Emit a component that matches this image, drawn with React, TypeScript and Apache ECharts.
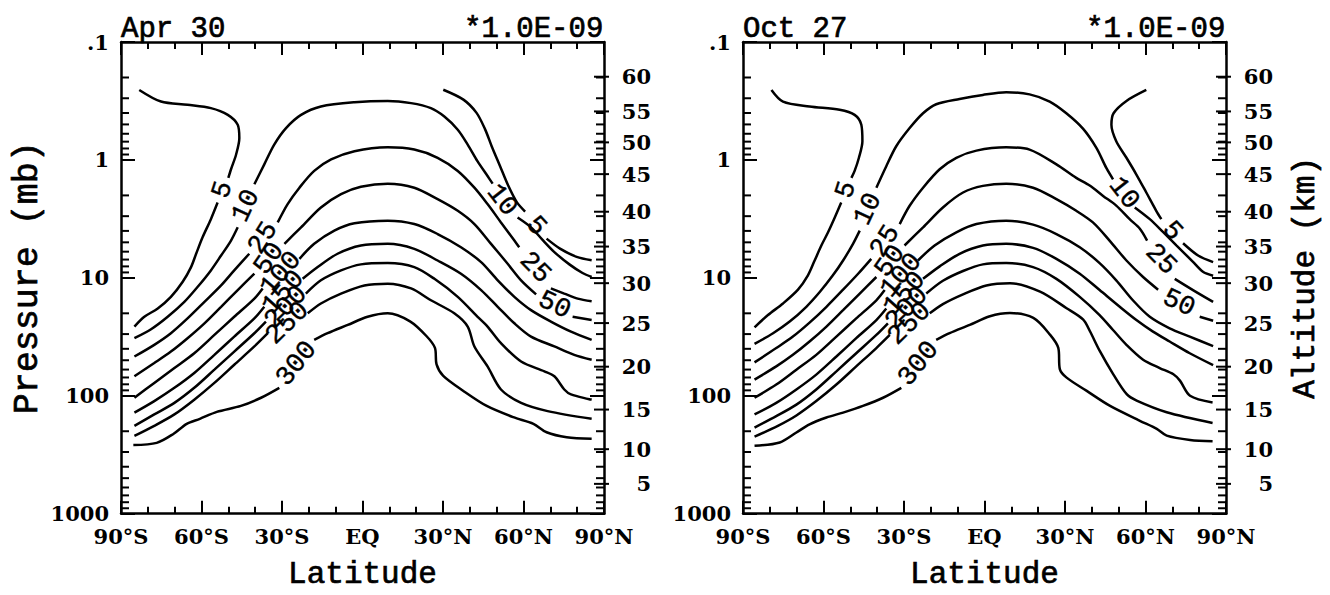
import React, { useEffect, useRef } from 'react';
import * as echarts from 'echarts';

type Pt = [number, number] | null;

// ---------- axis / tick data ----------
const latTickLabels = ['90°S', '60°S', '30°S', 'EQ', '30°N', '60°N', '90°N'];
const pressureTicks = [0.1, 1, 10, 100, 1000];
const pressureTickLabels = ['.1', '1', '10', '100', '1000'];
const minorPressureTicks = [
  0.2, 0.3, 0.4, 0.5, 0.6, 0.7, 0.8, 0.9,
  2, 3, 4, 5, 6, 7, 8, 9,
  20, 30, 40, 50, 60, 70, 80, 90,
  200, 300, 400, 500, 600, 700, 800, 900,
];
const altitudeKm = [60, 55, 50, 45, 40, 35, 30, 25, 20, 15, 10, 5];
const altitudePressure = [0.197, 0.388, 0.71, 1.32, 2.75, 5.43, 11.1, 24.2, 56.7, 131, 284, 559];
const panelDates = ['Apr 30', 'Oct 27'];
const scaleNote = '*1.0E-09';

// ---------- contour lines, [latitude, pressure mb]; null = gap for label ----------
const apr5W: Pt[] = [[-83.2,0.255],[-75.1,0.32],[-65.2,0.341],[-56.5,0.364],[-50.2,0.415],[-46.5,0.504],[-45.9,0.652],[-47.1,0.899],[-49.0,1.2],[-50.0,1.42],null,[-54.0,2.3],[-56.5,3.18],[-59.6,4.53],[-62.0,6.25],[-63.9,8.11],[-67.0,10.8],[-71.4,14.5],[-76.3,18.2],[-81.3,21.4],[-85.0,25.9]];
const apr5E: Pt[] = [[30.1,0.254],[37.6,0.308],[42.5,0.399],[45.7,0.551],[48.1,0.761],[51.2,1.12],[54.3,1.65],[57.5,2.28],[60.6,2.74],null,[68.6,4.65],[73.6,5.65],[79.8,6.64],[85.4,7.09]];
const apr10: Pt[] = [[-85.0,32.5],[-78.8,27.3],[-72.6,21.4],[-66.4,16.0],[-61.4,11.9],[-56.5,8.65],[-52.7,6.47],[-49.0,4.83],[-46.5,3.73],null,[-40.3,1.61],[-36.6,1.09],[-32.9,0.741],[-28.5,0.537],[-22.9,0.415],[-15.5,0.352],[-3.0,0.324],[9.4,0.316],[18.1,0.33],[25.5,0.364],[30.5,0.429],[35.5,0.555],[39.2,0.741],[42.9,1.03],[46.6,1.37],[48.5,1.59],null,[57.8,3.08],[62.8,3.73],[67.1,4.77],[71.5,6.05],[77.1,7.69],[82.0,9.1],[85.4,9.84]];
const apr25: Pt[] = [[-85.0,46.5],[-77.6,37.0],[-71.4,29.5],[-65.2,22.1],[-58.9,16.0],[-52.7,11.6],[-47.8,8.65],[-42.2,6.25],null,[-31.6,3.39],[-27.9,2.37],[-23.5,1.72],[-18.0,1.24],[-11.7,0.991],[-3.0,0.843],[9.4,0.782],[19.3,0.817],[28.0,0.959],[35.5,1.24],[41.7,1.72],[46.6,2.37],[51.6,3.39],[56.6,4.83],[58.4,5.5],null,[70.2,12.3],[75.2,13.6],[80.2,15.0],[85.4,15.8]];
const apr50: Pt[] = [[-85.0,68.4],[-77.6,52.8],[-71.4,42.2],[-65.2,32.5],[-58.9,24.3],[-52.7,17.6],[-46.5,12.7],[-40.3,9.23],null,[-29.1,5.15],[-22.9,3.73],[-15.5,2.53],[-8.0,1.95],[-0.6,1.69],[9.4,1.59],[19.3,1.72],[28.0,2.15],[35.5,2.7],[41.7,3.5],[47.9,5.15],[54.1,7.6],[59.1,10.5],[64.7,13.8],null,[78.3,21.4],[85.4,22.8]];
const apr100: Pt[] = [[-85.0,104],[-77.6,77.8],[-70.1,58.2],[-62.7,43.6],[-55.2,30.5],[-47.8,21.4],[-40.3,15.0],[-37.2,12.3],null,[-23.5,6.9],[-18.0,5.15],[-10.5,3.98],[-3.0,3.45],[9.4,3.28],[19.3,3.5],[28.0,4.25],[36.7,5.5],[44.2,7.36],[50.4,10.5],[56.6,14.5],[62.8,18.8],[70.2,23.5],[77.7,28.6],[85.4,33.6]];
const apr150: Pt[] = [[-85.0,139],[-77.6,111],[-70.1,85.7],[-62.7,64.1],[-55.2,45.0],[-47.8,31.5],[-40.3,22.1],[-36.6,17.6],null,[-22.3,10.2],[-16.7,8.11],[-9.3,6.25],[-0.6,5.32],[9.4,5.15],[19.3,5.68],[28.0,7.13],[36.7,9.23],[44.2,12.7],[50.4,17.6],[56.6,24.3],[62.8,31.5],[71.5,38.2],[78.9,45.0],[85.4,49.5]];
const apr200: Pt[] = [[-85.0,180],[-77.6,144],[-70.1,115],[-62.7,85.7],[-55.2,60.1],[-47.8,42.2],[-40.3,29.5],[-36.0,23.5],null,[-21.1,13.6],[-15.5,10.5],[-8.0,8.65],[-0.6,7.69],[9.4,7.5],[19.3,8.11],[26.8,10.2],[35.5,14.5],[42.9,21.4],[46.6,25.9],[51.6,35.8],[59.1,51.2],[67.8,62.1],[71.5,68.4],[75.2,88.5],[77.7,97.5],[85.4,108]];
const apr250: Pt[] = [[-85.0,219],[-77.6,180],[-70.1,144],[-62.7,108],[-55.2,77.8],[-47.8,54.6],[-40.3,38.2],[-35.3,29.5],null,[-20.4,20.0],[-15.5,16.5],[-8.0,13.6],[0.7,11.6],[9.4,11.2],[18.1,12.3],[25.5,15.5],[34.2,20.0],[39.2,25.9],[41.7,38.2],[46.6,56.4],[51.6,88.5],[59.1,115],[69.0,135],[85.4,157]];
const apr300: Pt[] = [[-85.4,262],[-76.7,251],[-70.5,211],[-65.5,173],[-60.6,157],[-54.3,137],[-45.3,122],[-37.8,104],[-31.0,85.7],null,[-18.0,33.6],[-13.0,29.5],[-5.5,25.1],[1.9,21.4],[9.4,20.0],[17.7,23.4],[23.9,31.3],[27.0,39.3],[27.6,54.2],[30.1,67.9],[37.6,91.0],[46.3,122],[56.2,152],[63.7,173],[68.6,204],[76.1,225],[85.4,232]];

const oct5W: Pt[] = [[-79.4,0.255],[-75.1,0.32],[-65.2,0.352],[-54.0,0.376],[-48.4,0.415],[-45.9,0.504],[-45.5,0.695],[-46.8,0.959],[-48.4,1.24],[-49.6,1.42],null,[-53.4,2.3],[-55.8,3.08],[-58.3,4.11],[-60.8,5.32],[-63.3,7.13],[-65.8,9.53],[-69.5,12.6],[-75.1,16.5],[-80.7,20.7],[-85.7,26.3]];
const oct5E: Pt[] = [[60.3,0.255],[52.9,0.316],[48.1,0.402],[47.3,0.504],[49.1,0.695],[52.9,0.959],[56.6,1.33],[60.3,1.89],[64.0,2.7],[65.9,3.18],null,[74.0,5.09],[79.6,6.47],[85.2,7.36]];
const oct10: Pt[] = [[-85.7,36.3],[-78.8,29.5],[-72.6,23.5],[-66.4,17.6],[-61.4,13.2],[-56.5,9.53],[-52.7,7.13],[-49.0,5.15],[-46.5,3.98],null,[-40.3,1.72],[-36.6,1.13],[-32.9,0.766],[-27.9,0.537],[-22.9,0.402],[-18.0,0.337],[-9.3,0.304],[-0.6,0.281],[8.1,0.267],[16.8,0.278],[24.3,0.32],[30.5,0.402],[36.7,0.543],[41.7,0.791],[45.4,1.17],[47.9,1.46],null,[56.0,2.53],[61.6,3.18],[66.5,4.08],[71.5,5.3],[77.7,7.31],[81.4,8.87],[85.2,9.59]];
const oct25: Pt[] = [[-85.7,52.1],[-77.6,39.4],[-71.4,31.5],[-65.2,24.0],[-58.9,17.6],[-52.7,12.6],[-47.1,9.23],[-42.2,6.9],null,[-31.6,3.5],[-27.9,2.45],[-22.9,1.72],[-16.7,1.2],[-10.5,0.959],[-3.0,0.834],[8.1,0.782],[16.8,0.817],[26.8,1.09],[34.2,1.42],[39.2,1.65],[44.2,2.02],[49.1,2.44],[54.1,3.18],[57.9,3.83],[60.6,4.83],null,[70.9,10.2],[77.7,12.7],[85.2,16.0]];
const oct50: Pt[] = [[-85.7,72.9],[-77.6,56.4],[-71.4,45.0],[-65.2,34.7],[-58.9,25.9],[-52.7,18.8],[-46.5,13.6],[-40.3,9.84],null,[-29.8,5.32],[-22.9,3.73],[-15.5,2.53],[-8.0,1.89],[-0.6,1.66],[8.1,1.59],[18.1,1.72],[26.8,2.15],[34.2,2.7],[40.4,3.39],[46.6,4.83],[52.9,7.13],[59.1,9.84],[64.7,12.6],null,[80.2,21.4],[85.2,23.1]];
const oct100: Pt[] = [[-85.7,104],[-77.6,80.4],[-70.1,60.1],[-62.7,45.0],[-55.2,31.5],[-47.8,22.1],[-40.3,15.5],[-37.2,12.7],null,[-24.8,7.13],[-18.6,5.32],[-10.5,4.11],[-3.0,3.5],[8.1,3.28],[18.1,3.54],[26.8,4.25],[35.5,5.5],[42.9,7.5],[49.1,10.5],[55.3,15.5],[61.6,21.4],[69.0,26.8],[76.5,31.5],[85.2,38.0]];
const oct150: Pt[] = [[-85.7,144],[-77.6,115],[-70.1,88.5],[-62.7,66.2],[-55.2,46.5],[-47.8,32.5],[-40.3,22.8],[-36.6,18.2],null,[-22.9,10.2],[-16.7,8.0],[-9.3,6.25],[-0.6,5.32],[8.1,5.15],[18.1,5.57],[26.8,6.9],[35.5,9.23],[42.9,12.7],[50.4,17.6],[56.6,22.8],[62.8,28.6],[69.0,34.7],[76.5,43.6],[85.2,55.0]];
const oct200: Pt[] = [[-85.7,186],[-77.6,149],[-70.1,119],[-62.7,88.5],[-55.2,62.1],[-47.8,43.6],[-40.3,30.5],[-36.0,24.3],null,[-21.7,13.6],[-15.5,10.6],[-8.0,8.75],[-0.6,7.69],[8.1,7.5],[18.1,8.11],[26.8,10.2],[35.5,14.5],[42.9,20.7],[47.9,27.7],[52.9,37.0],[59.1,49.5],[65.3,58.2],[70.4,65.8],[72.9,74.8],[76.6,100],[85.0,114]];
const oct250: Pt[] = [[-85.7,222],[-77.0,180],[-70.1,147],[-62.7,111],[-55.2,80.4],[-47.8,56.4],[-40.3,39.4],[-35.3,30.5],null,[-20.4,20.0],[-15.5,16.7],[-8.0,13.8],[0.7,11.6],[9.5,11.1],[20.7,13.1],[30.6,18.1],[36.8,22.6],[39.3,28.4],[43.0,41.9],[48.0,65.8],[53.0,97.0],[56.7,110],[67.9,138],[85.0,170]];
const oct300: Pt[] = [[-85.7,266],[-76.3,249],[-70.1,205],[-65.2,175],[-58.9,153],[-52.7,139],[-45.3,122],[-37.8,104],[-31.0,85.7],null,[-18.0,33.6],[-13.0,29.5],[-5.5,25.1],[2.0,21.2],[9.5,19.9],[18.2,21.9],[24.4,30.3],[27.5,39.3],[28.1,59.7],[30.6,70.2],[38.1,91.0],[46.8,122],[57.9,163],[64.2,191],[67.9,218],[76.6,237],[85.0,243]];

// ---------- contour labels: [latitude, pressure, level] ----------
const aprLabels = [[-52.0,1.8,5],[-43.4,2.45,10],[-37.0,4.59,25],[-34.7,6.9,50],[-30.4,9.23,100],[-29.5,13.3,150],[-28.5,17.8,200],[-27.9,24.3,250],[-24.5,53.5,300],[51.9,2.2,10],[64.7,3.64,5],[64.3,8.21,25],[71.5,17.1,50]];
const octLabels = [[-51.5,1.8,5],[-43.4,2.62,10],[-37.0,4.9,25],[-35.1,7.22,50],[-31.0,9.53,100],[-29.8,13.6,150],[-28.9,18.2,200],[-27.9,24.6,250],[-24.5,53.5,300],[51.9,1.92,10],[69.9,4.01,5],[65.7,6.98,25],[72.4,16.4,50]];
const labelAngles = [72, 65, 58, 55, 50, 48, 46, 44, 52, -52, -48, -45, -25];

const aprLines: Pt[][] = [apr5W, apr5E, apr10, apr25, apr50, apr100, apr150, apr200, apr250, apr300];
const octLines: Pt[][] = [oct5W, oct5E, oct10, oct25, oct50, oct100, oct150, oct200, oct250, oct300];

function segments(pts: Pt[]): [number, number][][] {
  const out: [number, number][][] = [];
  let cur: [number, number][] = [];
  for (const p of pts) {
    if (p === null) {
      if (cur.length) out.push(cur);
      cur = [];
    } else cur.push(p);
  }
  if (cur.length) out.push(cur);
  return out;
}

const BLACK = '#000';
const tickFont = { fontFamily: 'DejaVu Serif', fontWeight: 'bold' as const, fontSize: 21, color: BLACK };
const monoFont = 'Liberation Mono';
const heavy = { textBorderColor: BLACK, textBorderWidth: 0.7 };

export default function App() {
  const ref = useRef<HTMLDivElement>(null);
  useEffect(() => {
    if (!ref.current) return;
    const chart = echarts.init(ref.current, undefined, { renderer: 'svg' });
    const gridLefts = [121, 743];
    const xAxis: any[] = [];
    const yAxis: any[] = [];
    const series: any[] = [];
    const title: any[] = [];

    gridLefts.forEach((gl, gi) => {
      const axisLine = { show: true, onZero: false, lineStyle: { color: BLACK, width: 2.5 } };
      const xCommon = {
        gridIndex: gi, type: 'value', min: -90, max: 90, interval: 30,
        axisLine,
        axisTick: { show: true, inside: true, length: 13, lineStyle: { color: BLACK, width: 2 } },
        minorTick: { show: true, splitNumber: 3, length: 7, lineStyle: { color: BLACK, width: 2 } },
        splitLine: { show: false }, minorSplitLine: { show: false },
      };
      xAxis.push({
        ...xCommon, position: 'bottom',
        axisLabel: { ...tickFont, margin: 12, formatter: (v: number) => latTickLabels[Math.round((v + 90) / 30)] },
        name: 'Latitude', nameLocation: 'middle', nameGap: 45,
        nameTextStyle: { fontFamily: monoFont, fontSize: 31, color: BLACK, ...heavy },
      });
      xAxis.push({ ...xCommon, position: 'top', axisLabel: { show: false } });

      const yCommon = {
        gridIndex: gi, type: 'log', logBase: 10, min: 0.1, max: 1000, inverse: true,
        axisLine,
        axisTick: { show: true, inside: true, length: 14, lineStyle: { color: BLACK, width: 2 } },
        splitLine: { show: false },
      };
      yAxis.push({
        ...yCommon, position: 'left',
        axisLabel: {
          ...tickFont, margin: 12,
          formatter: (v: number) => {
            let best = 0;
            pressureTicks.forEach((t, i) => { if (Math.abs(Math.log10(v) - Math.log10(t)) < Math.abs(Math.log10(v) - Math.log10(pressureTicks[best]))) best = i; });
            return pressureTickLabels[best];
          },
        },
        ...(gi === 0 ? {
          name: 'Pressure (mb)', nameLocation: 'middle', nameGap: 76,
          nameTextStyle: { fontFamily: monoFont, fontSize: 35, color: BLACK, ...heavy },
        } : {}),
      });
      yAxis.push({
        ...yCommon, position: 'right', axisLabel: { show: false },
        ...(gi === 1 ? {
          name: 'Altitude (km)', nameLocation: 'middle', nameGap: 64,
          nameTextStyle: { fontFamily: monoFont, fontSize: 31, color: BLACK, ...heavy },
        } : {}),
      });

      const xi = gi * 2;
      const yi = gi * 2;
      const lines = gi === 0 ? aprLines : octLines;
      lines.forEach((pts) => {
        segments(pts).forEach((seg) => {
          series.push({
            type: 'line', xAxisIndex: xi, yAxisIndex: yi, data: seg,
            showSymbol: false, symbol: 'none', smooth: 0.3, silent: true,
            lineStyle: { color: BLACK, width: 2.5 }, z: 2,
          });
        });
      });
      const labels = gi === 0 ? aprLabels : octLabels;
      series.push({
        type: 'scatter', xAxisIndex: xi, yAxisIndex: yi, symbolSize: 0, silent: true, z: 5,
        itemStyle: { color: BLACK, opacity: 1 },
        data: labels.map((l, i) => ({
          value: [l[0], l[1]],
          label: { rotate: labelAngles[i], formatter: String(l[2]), color: BLACK },
        })),
        label: {
          show: true, position: 'inside', color: BLACK, fontFamily: monoFont, fontSize: 27,
          textBorderWidth: 0.4, textBorderColor: BLACK, opacity: 1,
        },
      });
      // log minor ticks on both vertical sides
      series.push({
        type: 'custom', xAxisIndex: xi, yAxisIndex: yi, clip: false, silent: true, z: 6,
        data: minorPressureTicks.map((p) => [-90, p]),
        renderItem: (_p: any, api: any) => {
          const p = api.value(1);
          const L = api.coord([-90, p]);
          const R = api.coord([90, p]);
          return {
            type: 'group',
            children: [
              { type: 'line', shape: { x1: L[0], y1: L[1], x2: L[0] + 8, y2: L[1] }, style: { stroke: BLACK, lineWidth: 2 } },
              { type: 'line', shape: { x1: R[0] - 8, y1: R[1], x2: R[0], y2: R[1] }, style: { stroke: BLACK, lineWidth: 2 } },
            ],
          };
        },
      });
      // altitude axis on the right
      series.push({
        type: 'custom', xAxisIndex: xi, yAxisIndex: yi, clip: false, silent: true, z: 6,
        data: altitudeKm.map((a, i) => [90, altitudePressure[i], a]),
        renderItem: (_p: any, api: any) => {
          const p = api.value(1);
          const a = api.value(2);
          const R = api.coord([90, p]);
          return {
            type: 'group',
            children: [
              { type: 'line', shape: { x1: R[0] - 10, y1: R[1], x2: R[0] + 5, y2: R[1] }, style: { stroke: BLACK, lineWidth: 2 } },
              {
                type: 'text', x: R[0] + 47, y: R[1],
                style: {
                  text: String(a), fill: BLACK, fontFamily: 'DejaVu Serif', fontWeight: 'bold', fontSize: 21,
                  textAlign: 'right', textVerticalAlign: 'middle', align: 'right', verticalAlign: 'middle',
                },
              },
            ],
          };
        },
      });

      const titleStyle = { fontFamily: monoFont, fontSize: 29, fontWeight: 'normal', color: BLACK, ...heavy };
      title.push({ text: panelDates[gi], left: gl, top: 15, padding: 0, textStyle: titleStyle });
      title.push({ text: scaleNote, right: 1330 - (gl + 483), top: 15, padding: 0, textStyle: titleStyle });
    });

    chart.setOption({
      animation: false,
      backgroundColor: '#fff',
      title,
      grid: gridLefts.map((gl) => ({ left: gl, top: 42, width: 483, height: 475, containLabel: false })),
      xAxis, yAxis, series,
    });
    return () => chart.dispose();
  }, []);
  return <div ref={ref} style={{ position: 'fixed', left: 0, top: 0, width: 1330, height: 595, background: '#fff' }} />;
}
